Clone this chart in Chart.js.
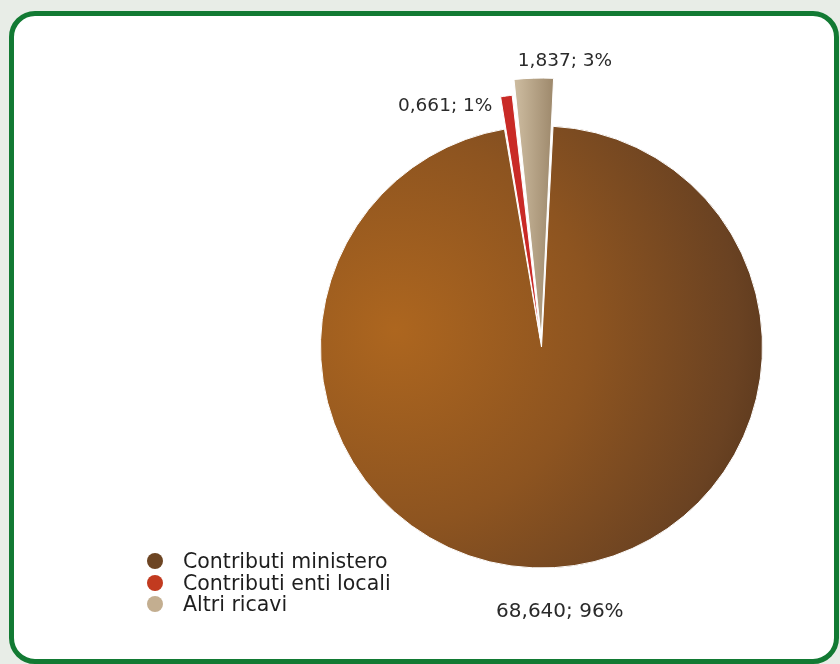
<!DOCTYPE html>
<html>
<head>
<meta charset="utf-8">
<script src="https://cdn.jsdelivr.net/npm/chart.js@4.4.1/dist/chart.umd.min.js"></script>
<style>
  html, body { margin: 0; padding: 0; width: 840px; height: 664px; overflow: hidden; background: #e8ede7; }
  .frame { position: absolute; left: 9px; top: 11px; width: 820px; height: 643px;
           border: 5px solid #127a33; border-radius: 26px; background: #fff; }
  #chart { position: absolute; left: 0; top: 0; }
  .legend { position: absolute; left: 147px; top: 551px; font-family: "DejaVu Sans", sans-serif;
            font-size: 20.5px; color: #1e1e1e; font-variant-ligatures: none; }
  .legend div { height: 21.5px; line-height: 21.5px; white-space: nowrap; }
  .legend span { display: inline-block; width: 16px; height: 16px; border-radius: 50%;
                 vertical-align: -1px; margin-right: 20px; }
</style>
</head>
<body>
<div class="frame"></div>
<canvas id="chart" width="840" height="664"></canvas>
<div class="legend" id="legend"></div>
<script>
// revenue split
const labels = ["Contributi ministero", "Contributi enti locali", "Altri ricavi"];
const values = [68.640, 0.661, 1.837];
const valueText = ["68,640", "0,661", "1,837"];
const percentText = ["96%", "1%", "3%"];

const legendColors = ["#6d4523", "#c23a1f", "#c3ae90"];
const sliceShift = [0, 17, 17];          // visible explode distance in px
const sliceStretch = [1, 1.07, 1.14];    // exploded wedges stick out further
const labelGap = [44, 0, 0];
const labelAlign = ["center", "right", "left"];
const labelNudge = [[3, 0], [-14, 10], [-16, -17]];
const labelSize = [20, 18.5, 18.5];

// chart.js moves an arc by offset/4 * (2 - sin(angle)), so convert the wanted shift
const total = values.reduce((a, b) => a + b, 0);
const sliceOffset = values.map((v, i) => {
  const ang = (v / total) * Math.PI * 2;
  const k = (1 + (1 - Math.sin(Math.min(Math.PI, ang)))) / 4;
  return sliceShift[i] / k;
});

document.getElementById("legend").innerHTML = labels
  .map((l, i) => `<div><span style="background:${legendColors[i]}"></span>${l}</div>`)
  .join("");

function sliceFill(ctx) {
  const c = ctx.chart.ctx;
  const area = ctx.chart.chartArea;
  if (!area) return legendColors[ctx.dataIndex];
  if (ctx.dataIndex === 0) {
    const g = c.createRadialGradient(395, 330, 0, 395, 330, 390);
    g.addColorStop(0, "#ad661f");
    g.addColorStop(0.5, "#8d5420");
    g.addColorStop(0.88, "#6a4222");
    g.addColorStop(1, "#5a381d");
    return g;
  }
  if (ctx.dataIndex === 1) return "#c92a26";
  const g = c.createLinearGradient(515, 0, 555, 0);
  g.addColorStop(0, "#cdbca0");
  g.addColorStop(1, "#9c876a");
  return g;
}

const stretchPlugin = {
  id: "stretch",
  afterDatasetsUpdate(chart) {
    const meta = chart.getDatasetMeta(0);
    meta.data.forEach((arc, i) => {
      arc.outerRadius = chart.options.radius * sliceStretch[i];
    });
  },
};

const labelPlugin = {
  id: "sliceLabels",
  afterDatasetsDraw(chart) {
    const ctx = chart.ctx;
    const meta = chart.getDatasetMeta(0);
    ctx.save();
    ctx.fillStyle = "#2a2a2a";
    ctx.textBaseline = "middle";
    meta.data.forEach((arc, i) => {
      const mid = (arc.startAngle + arc.endAngle) / 2;
      const r = arc.outerRadius + sliceShift[i] + labelGap[i];
      const x = arc.x + Math.cos(mid) * r + labelNudge[i][0];
      const y = arc.y + Math.sin(mid) * r + labelNudge[i][1];
      ctx.font = labelSize[i] + "px 'DejaVu Sans', sans-serif";
      ctx.textAlign = labelAlign[i];
      ctx.fillText(valueText[i] + "; " + percentText[i], x, y);
    });
    ctx.restore();
  },
};

new Chart(document.getElementById("chart"), {
  type: "pie",
  data: {
    labels: labels,
    datasets: [
      {
        data: values,
        backgroundColor: sliceFill,
        borderColor: "#ffffff",
        borderWidth: 1,
        offset: sliceOffset,
      },
    ],
  },
  options: {
    responsive: false,
    animation: false,
    rotation: 3,
    radius: 221,
    layout: { padding: { left: 243, top: 30 } },
    plugins: {
      legend: { display: false },
      tooltip: { enabled: false },
    },
  },
  plugins: [stretchPlugin, labelPlugin],
});
</script>
</body>
</html>
